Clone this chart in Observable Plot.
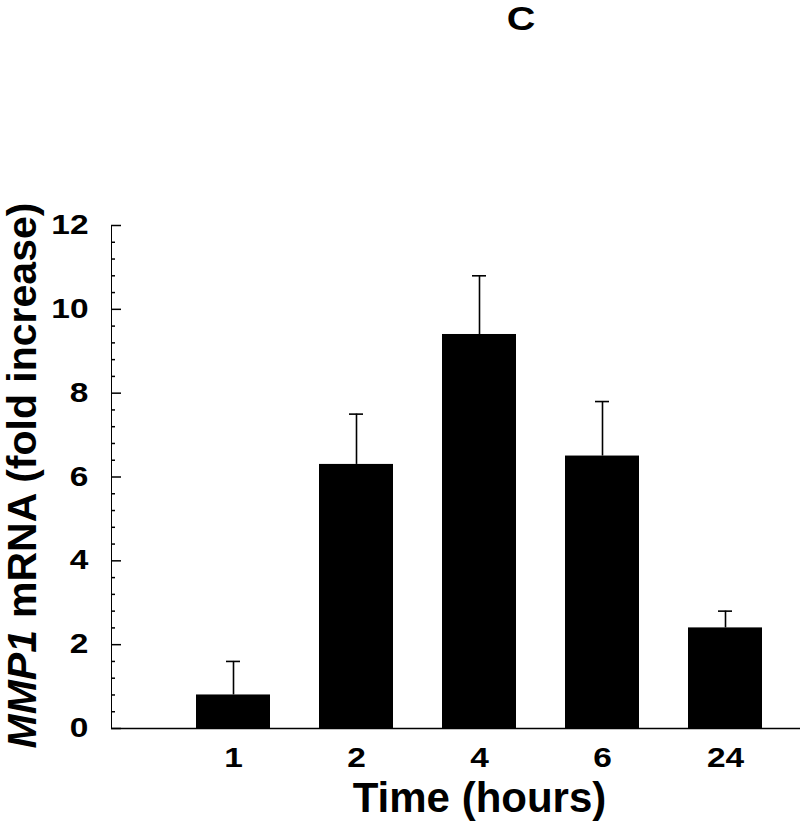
<!DOCTYPE html>
<html>
<head>
<meta charset="utf-8">
<script src="https://cdn.jsdelivr.net/npm/d3@7"></script>
<script src="https://cdn.jsdelivr.net/npm/@observablehq/plot@0.6"></script>
<style>
  body { margin: 0; background: #fff; }
  #wrap { position: relative; width: 800px; height: 831px; font-family: "Liberation Sans", Arial, sans-serif; }
  #title { position: absolute; top: 0; left: 521px; transform: translateX(-50%) scaleX(1.2); font-size: 33px; line-height: normal; font-weight: bold; color: #000; }
</style>
</head>
<body>
<div id="wrap"><div id="title">C</div></div>
<script>
const times = ["1", "2", "4", "6", "24"];
const means = [0.8, 6.3, 9.4, 6.5, 2.4];
const errors = [0.8, 1.2, 1.4, 1.3, 0.4];
const majorTicks = [0, 2, 4, 6, 8, 10, 12];
const minorTicks = d3.range(0, 12.001, 0.4).map(v => +v.toFixed(1)).filter(v => Math.abs(v / 2 - Math.round(v / 2)) > 1e-6);
const yTitleItalic = "MMP1";
const yTitleRest = "mRNA (fold increase)";
const xTitle = "Time (hours)";

const data = times.map((t, i) => ({time: t, value: means[i], upper: means[i] + errors[i]}));

const W = 800, H = 831, mL = 111, mR = 0, mT = 225, mB = 103;
const frameW = W - mL - mR;

const chart = Plot.plot({
  width: W,
  height: H,
  marginLeft: mL,
  marginRight: mR,
  marginTop: mT,
  marginBottom: mB,
  style: {fontFamily: "'Liberation Sans', Arial, sans-serif", fontSize: "27px", fontWeight: "bold", color: "#000", background: "#fff", overflow: "visible"},
  x: {type: "band", domain: times, range: [171.5, 786.5], paddingInner: 0.4, paddingOuter: 0.2, tickSize: 0, tickPadding: 19, label: null},
  y: {domain: [0, 12], ticks: majorTicks, tickSize: 0, tickPadding: 23, label: null, line: true},
  marks: [
    Plot.ruleX(data, {x: "time", y1: "value", y2: "upper", stroke: "#000", strokeWidth: 1.6}),
    Plot.tickY(data, {x: "time", y: "upper", insetLeft: 30, insetRight: 30, stroke: "#000", strokeWidth: 1.6}),
    Plot.barY(data, {x: "time", y: "value", fill: "#000"}),
    Plot.tickY(minorTicks, {y: d => d, insetRight: frameW - 4, stroke: "#000", strokeWidth: 1.5}),
    Plot.tickY(majorTicks, {y: d => d, insetRight: frameW - 10, stroke: "#000", strokeWidth: 1.5}),
    Plot.ruleY([0], {stroke: "#000", strokeWidth: 1.6}),
    Plot.text([xTitle], {x: () => "4", frameAnchor: "bottom", lineAnchor: "top", dy: 54, fontSize: 42, fontWeight: "bold", fill: "#000"}),
    Plot.text([yTitleItalic], {frameAnchor: "left", rotate: -90, textAnchor: "end", lineAnchor: "bottom", dx: -76, dy: 153, fontSize: 41, fontWeight: "bold", fontStyle: "italic", fill: "#000"}),
    Plot.text([yTitleRest], {frameAnchor: "left", rotate: -90, textAnchor: "start", lineAnchor: "bottom", dx: -76, dy: 141, fontSize: 41, fontWeight: "bold", fill: "#000"})
  ]
});
// widen tick label glyphs (the reference uses a broad bold face)
chart.querySelectorAll('g[aria-label^="x-axis"] text, g[aria-label^="y-axis"] text').forEach(t => {
  const x = +(t.getAttribute("x") || 0);
  const tr = t.getAttribute("transform") || "";
  t.setAttribute("font-size", "27px");
  t.setAttribute("transform", `${tr} translate(${x},0) scale(1.24,1) translate(${-x},0)`);
});
document.getElementById("wrap").appendChild(chart);
</script>
</body>
</html>
